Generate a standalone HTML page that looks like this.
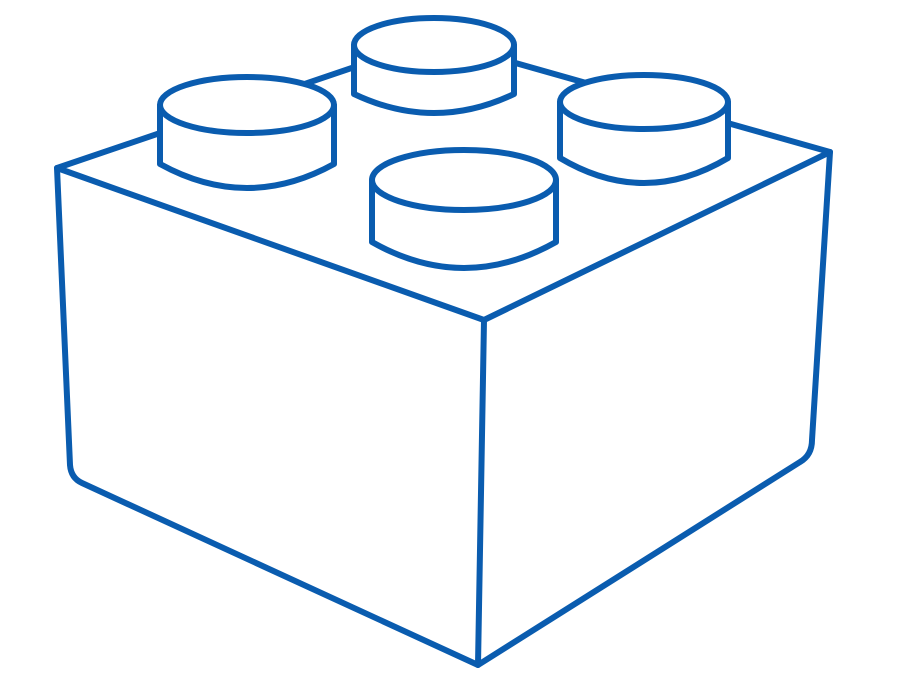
<!DOCTYPE html>
<html><head><style>html,body{margin:0;padding:0;background:#fff;}svg{display:block}</style></head>
<body>
<svg width="909" height="673" viewBox="0 0 909 673" xmlns="http://www.w3.org/2000/svg">
<g fill="none" stroke="#0a5caf" stroke-width="6" stroke-linejoin="round" stroke-linecap="round">
<path d="M57,168 L434,40 L830,152"/>
<path d="M57,168 L484,320 L830,152"/>
<path d="M484,320 L478,665"/>
<path d="M57,168 L70,465 Q71,478 82,483 L478,665 L800,462 Q812,455 812,440 L830,152"/>
</g>
<g fill="#fff" stroke="#0a5caf" stroke-width="6" stroke-linejoin="round">
<path d="M354,45 L354,94 Q434,132 514,94 L514,45 Z"/>
<ellipse cx="434" cy="45" rx="80" ry="27"/>
<path d="M160,105 L160,164 Q247,212 334,164 L334,105 Z"/>
<ellipse cx="247" cy="105" rx="87" ry="28"/>
<path d="M560,102 L560,158 Q644,208 728,158 L728,102 Z"/>
<ellipse cx="644" cy="102" rx="84" ry="27"/>
<path d="M372,180 L372,242 Q464,294 556,242 L556,180 Z"/>
<ellipse cx="464" cy="180" rx="92" ry="30"/>
</g>
</svg>
</body></html>
